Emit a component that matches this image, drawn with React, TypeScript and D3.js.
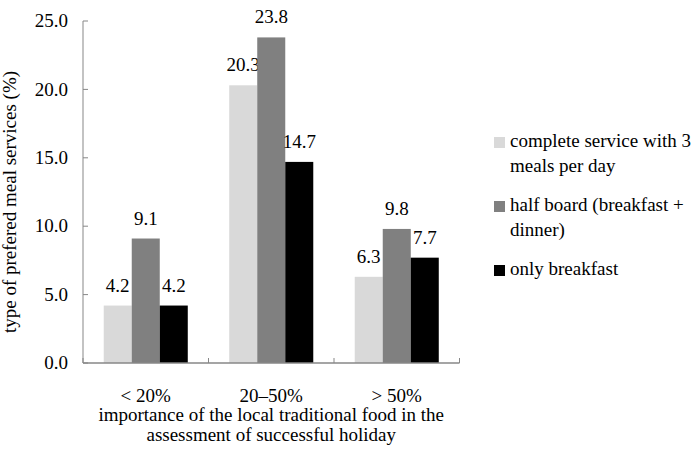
import React from "react";
import * as d3 from "d3";

const categories = ["< 20%", "20–50%", "> 50%"];
const seriesNames = ["complete", "half", "breakfast"];
const completeService = [4.2, 20.3, 6.3];
const halfBoard = [9.1, 23.8, 9.8];
const onlyBreakfast = [4.2, 14.7, 7.7];
const yTicks = [0, 5, 10, 15, 20, 25];
const legendLines = [
  ["complete service with 3", "meals per day"],
  ["half board (breakfast +", "dinner)"],
  ["only breakfast"],
];
const colors = ["#d9d9d9", "#808080", "#000000"];

const W = 693;
const H = 453;
const left = 83;
const right = 459.5;
const top = 21;
const bottom = 363;
const fs = 19;
const axisColor = "#878787";

// every text gets its font directly
function T(props: any) {
  return (
    <text
      fontFamily="Times New Roman"
      style={{ fontFamily: "'Times New Roman', 'Liberation Serif', serif", fontSize: fs }}
      fill="#000"
      {...props}
    />
  );
}

export default function App() {
  const values = [completeService, halfBoard, onlyBreakfast];
  const x0 = d3.scaleBand<string>().domain(categories).range([left, right]).padding(0);
  const x1 = d3
    .scaleBand<string>()
    .domain(seriesNames)
    .range([0, x0.bandwidth()])
    .paddingInner(0)
    .paddingOuter(0.74);
  const y = d3.scaleLinear().domain([0, 25]).range([bottom, top]);

  return (
    <svg width={W} height={H} style={{ position: "absolute", left: 0, top: 0 }}>
      <rect width={W} height={H} fill="#fff" />
      {/* bars */}
      {categories.map((c, ci) => (
        <g key={c} transform={`translate(${x0(c)},0)`}>
          {seriesNames.map((s, si) => {
            const v = values[si][ci];
            const bx = x1(s)!;
            return (
              <g key={s}>
                <rect x={bx} y={y(v)} width={x1.bandwidth()} height={bottom - y(v)} fill={colors[si]} />
                <T x={bx + x1.bandwidth() / 2} y={y(v) - 14} textAnchor="middle">
                  {v.toFixed(1)}
                </T>
              </g>
            );
          })}
        </g>
      ))}
      {/* y axis */}
      <line x1={left} x2={left} y1={top} y2={bottom} stroke={axisColor} strokeWidth={1} />
      {yTicks.map((t) => (
        <g key={t}>
          <line x1={left} x2={left + 5} y1={y(t)} y2={y(t)} stroke={axisColor} />
          <T x={68} y={y(t)} dy="0.33em" textAnchor="end">
            {t.toFixed(1)}
          </T>
        </g>
      ))}
      {/* x axis */}
      <line x1={left} x2={right} y1={bottom} y2={bottom} stroke={axisColor} strokeWidth={1.5} />
      {[...categories.map((c) => x0(c)!), right].map((px, i) => (
        <line key={i} x1={px} x2={px} y1={bottom} y2={bottom - 5} stroke={axisColor} />
      ))}
      {categories.map((c) => (
        <T key={c} x={x0(c)! + x0.bandwidth() / 2} y={402} textAnchor="middle">
          {c}
        </T>
      ))}
      <T x={(left + right) / 2} y={421} textAnchor="middle">
        importance of the local traditional food in the
      </T>
      <T x={(left + right) / 2} y={441} textAnchor="middle">
        assessment of successful holiday
      </T>
      <T transform={`translate(16,${(top + bottom) / 2 + 10}) rotate(-90)`} textAnchor="middle">
        type of prefered meal services (%)
      </T>
      {/* legend */}
      {legendLines.map((lines, i) => {
        const base = 147 + i * 64;
        return (
          <g key={i}>
            <rect x={494} y={base - 10} width={11} height={11} fill={colors[i]} />
            {lines.map((l, li) => (
              <T key={li} x={510} y={base + li * 25}>
                {l}
              </T>
            ))}
          </g>
        );
      })}
    </svg>
  );
}
